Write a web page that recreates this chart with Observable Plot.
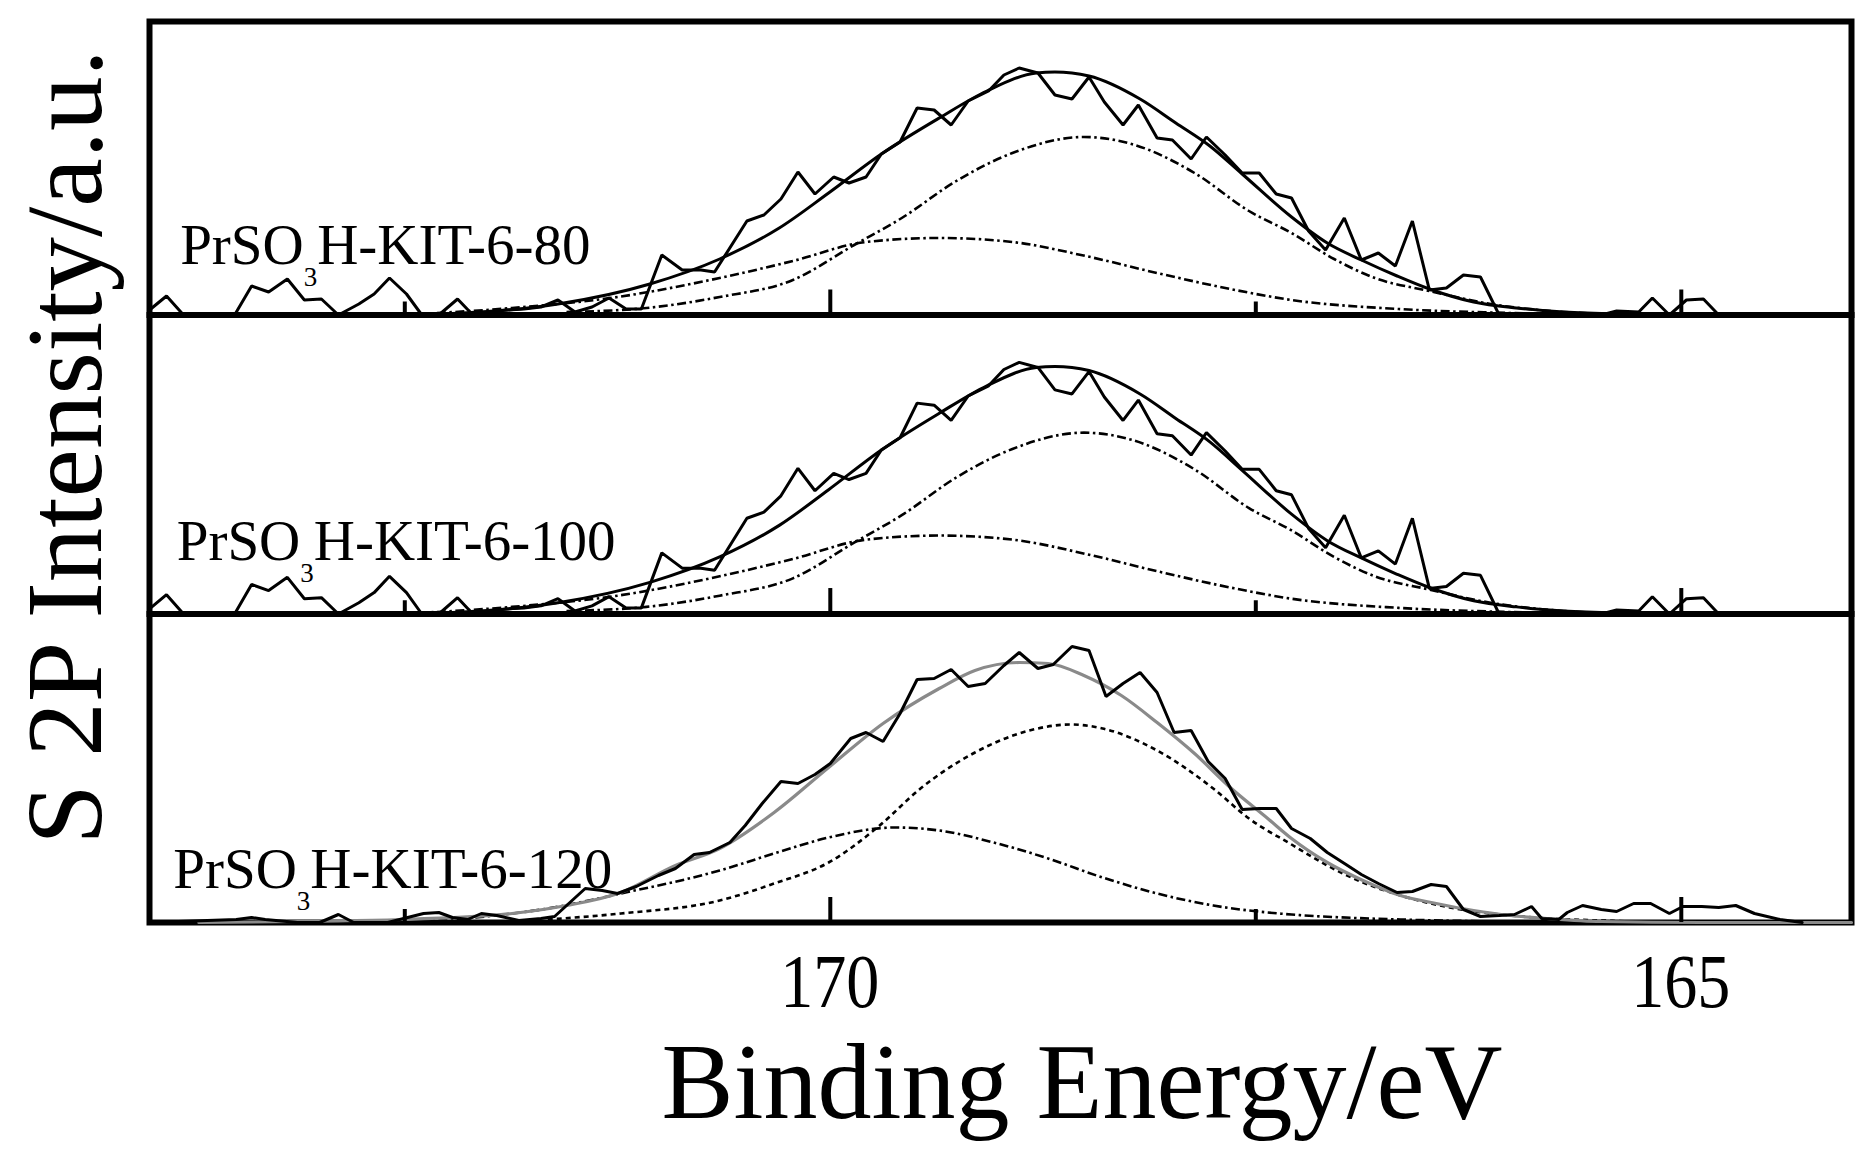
<!DOCTYPE html>
<html>
<head>
<meta charset="utf-8">
<script src="https://cdn.jsdelivr.net/npm/d3@7"></script>
<script src="https://cdn.jsdelivr.net/npm/@observablehq/plot@0.6"></script>
<style>
  html, body { margin: 0; padding: 0; background: #fff; }
  #chart { position: relative; width: 1870px; height: 1160px; background: #fff; }
  #chart svg { position: absolute; left: 0; top: 0; display: block; }
</style>
</head>
<body>
<div id="chart"></div>
<script>
// ---------------- data ----------------
const sampleNames = ["PrSO3H-KIT-6-80", "PrSO3H-KIT-6-100", "PrSO3H-KIT-6-120"];

const majorTicks = [170, 165];
const minorTicks = [172.5, 167.5];

// Panels 1 and 2 (80 and 100) show the same measured trace and fit.
const rawBE_80 = [174.0, 173.90, 173.80, 173.70, 173.60, 173.50, 173.40, 173.30, 173.19, 173.09,
  172.99, 172.89, 172.77, 172.68, 172.59, 172.49, 172.40, 172.30, 172.19, 172.10,
  172.00, 171.90, 171.80, 171.70, 171.60, 171.50, 171.40, 171.30, 171.20, 171.11,
  170.99, 170.87, 170.76, 170.68, 170.49, 170.39, 170.29, 170.19, 170.09, 169.98,
  169.89, 169.79, 169.70, 169.59, 169.49, 169.39, 169.29, 169.19, 169.07, 168.98,
  168.89, 168.78, 168.68, 168.58, 168.48, 168.39, 168.28, 168.19, 168.08, 167.99,
  167.88, 167.79, 167.68, 167.58, 167.48, 167.38, 167.29, 167.19, 167.09, 166.98,
  166.88, 166.78, 166.68, 166.58, 166.48, 166.38, 166.28, 166.18, 166.07, 165.97,
  165.87, 165.77, 165.67, 165.57, 165.47, 165.38, 165.25, 165.17, 165.07, 164.97,
  164.87, 164.78, 164.0];
const rawI_80 = [5, 19, 0, 0, 0, 0, 29, 23, 36, 15,
  16, 0, 11, 21, 37, 21, 0, 0, 16, 0,
  3, 5, 6, 8, 15, 3, 8, 17, 6, 6,
  60, 45, 45, 43, 94, 100, 116, 143, 121, 138,
  132, 138, 161, 173, 207, 205, 190, 214, 224, 240,
  247, 242, 220, 216, 238, 213, 190, 210, 177, 175,
  156, 178, 160, 142, 142, 121, 117, 84, 65, 97,
  55, 62, 49, 94, 25, 27, 40, 38, 0, 0,
  0, 0, 0, 0, 0, 4, 3, 17, 0, 15,
  16, 0, 0];

const fitBE_80 = [172.60, 172.35, 172.16, 171.60, 171.06, 170.65, 170.30, 170.01, 169.70, 169.36,
  169.08, 168.79, 168.68, 168.48, 168.18, 167.97, 167.77, 167.58, 167.29, 167.08,
  166.88, 166.67, 166.48, 166.22, 165.97, 165.69, 165.37, 164.88];
const fitI_80 = [0, 1, 2, 11, 31, 56, 87, 122, 161, 197,
  224, 242, 243, 239, 216, 192, 169, 141, 98, 72,
  55, 39, 26, 13, 7, 3, 1, 0];

const compA_BE_80 = [171.55, 171.08, 170.65, 170.22, 169.86, 169.58, 169.26, 168.93, 168.51, 168.23,
  167.86, 167.54, 167.29, 167.04, 166.80, 166.48, 166.12, 165.69, 165.18];
const compA_I_80 = [3, 7, 18, 35, 70, 97, 134, 162, 178, 171,
  142, 104, 82, 56, 37, 24, 11, 3, 0];

const compB_BE_80 = [172.42, 171.87, 171.25, 170.65, 170.22, 169.79, 169.36, 168.93, 168.50, 168.08,
  167.65, 167.29, 166.66, 166.01, 165.18];
const compB_I_80 = [1, 7, 18, 37, 54, 73, 77, 73, 59, 42,
  26, 15, 6, 2, 0];

// Panel 3 (120)
const rawBE_120 = [174.00, 173.49, 173.40, 173.32, 173.13, 173.00, 172.89, 172.80, 172.60, 172.39,
  172.30, 172.22, 172.13, 172.05, 171.96, 171.83, 171.70, 171.62, 171.44, 171.34,
  171.25, 171.14, 171.01, 170.91, 170.80, 170.71, 170.59, 170.50, 170.40, 170.29,
  170.19, 170.09, 170.00, 169.88, 169.79, 169.69, 169.59, 169.49, 169.39, 169.29,
  169.19, 169.09, 168.98, 168.89, 168.78, 168.69, 168.58, 168.48, 168.38, 168.28,
  168.18, 168.08, 167.98, 167.88, 167.78, 167.68, 167.58, 167.48, 167.38, 167.29,
  167.18, 167.08, 166.97, 166.88, 166.78, 166.67, 166.58, 166.47, 166.38, 166.28,
  166.18, 166.07, 165.98, 165.88, 165.82, 165.72, 165.67, 165.58, 165.47, 165.38,
  165.28, 165.18, 165.07, 164.99, 164.88, 164.78, 164.68, 164.57, 164.42, 164.29];
const rawI_120 = [0, 3, 5, 3, 0, 0, 8, 0, 0, 9,
  10, 5, 3, 9, 7, 2, 4, 6, 34, 32,
  29, 36, 47, 54, 68, 70, 80, 97, 119, 141,
  139, 148, 159, 184, 190, 181, 209, 243, 244, 253,
  236, 239, 257, 270, 254, 258, 276, 272, 226, 239,
  250, 230, 190, 192, 161, 144, 113, 114, 114, 94,
  84, 70, 58, 48, 39, 30, 31, 38, 36, 13,
  6, 7, 8, 16, 4, 3, 10, 17, 13, 11,
  19, 19, 9, 16, 16, 15, 17, 9, 3, 0];

const fitBE_120 = [173.71, 172.52, 171.87, 171.55, 171.23, 170.91, 170.65, 170.33, 170.01, 169.69,
  169.36, 169.15, 168.89, 168.72, 168.51, 168.29, 168.08, 167.86, 167.65, 167.43,
  167.29, 167.08, 166.87, 166.65, 166.44, 166.22, 166.01, 165.79, 165.47, 164.88, 164.00];
const fitI_120 = [0, 3, 9, 17, 30, 57, 74, 110, 155, 199,
  234, 252, 260, 259, 247, 227, 200, 169, 135, 104,
  84, 60, 42, 27, 19, 12, 7, 4, 1, 0, 0];

const compA_BE_120 = [171.66, 171.23, 170.65, 170.33, 170.01, 169.71, 169.47, 169.15, 168.83, 168.59,
  168.40, 168.08, 167.75, 167.54, 167.29, 167.08, 166.87, 166.65, 166.36, 165.94, 165.47, 164.88];
const compA_I_120 = [3, 9, 22, 39, 60, 97, 134, 170, 192, 198,
  194, 172, 134, 104, 78, 57, 40, 27, 15, 6, 2, 0];

const compB_BE_120 = [172.52, 172.09, 171.66, 171.23, 170.65, 170.33, 170.01, 169.62, 169.36, 169.04,
  168.72, 168.40, 168.08, 167.75, 167.43, 167.29, 166.65, 166.06, 165.47];
const compB_I_120 = [1, 5, 14, 29, 52, 69, 85, 95, 92, 80,
  64, 45, 29, 17, 10, 8, 3, 1, 0];

// ---------------- layout (not data) ----------------
const layout = {
  width: 1870, height: 1160,
  marginLeft: 149, marginRight: 19,
  bounds: [21, 314.5, 613.5, 922],     // panel frame edges, top to bottom
  yMax: [293.5, 293.5, 308.5],         // intensity units spanned by each panel
  labelBE: [173.82, 173.84, 173.86],   // left edge of sample labels
  labelBase: [51, 53, 35],             // baseline height above panel bottom
  tickLabelBaseline: 1007
};
const font = "'Liberation Serif', 'Times New Roman', serif";
const dashDot = "9,3.5,2.5,3.5";

// ---------------- build tidy table ----------------
const rows = [];
function addSeries(sample, series, be, inten) {
  const n = Math.min(be.length, inten.length);
  for (let k = 0; k < n; k++) rows.push({sample, series, be: be[k], i: inten[k]});
}
[sampleNames[0], sampleNames[1]].forEach(s => {
  addSeries(s, "compB", compB_BE_80, compB_I_80);
  addSeries(s, "compA", compA_BE_80, compA_I_80);
  addSeries(s, "fit", fitBE_80, fitI_80);
  addSeries(s, "raw", rawBE_80, rawI_80);
});
addSeries(sampleNames[2], "compB", compB_BE_120, compB_I_120);
addSeries(sampleNames[2], "compA", compA_BE_120, compA_I_120);
addSeries(sampleNames[2], "fit", fitBE_120, fitI_120);
addSeries(sampleNames[2], "raw", rawBE_120, rawI_120);

function panel(k) {
  const s = sampleNames[k];
  const data = rows.filter(d => d.sample === s);
  const last = k === sampleNames.length - 1;
  const lineOf = (series, extra) => Plot.line(data.filter(d => d.series === series),
    {x: "be", y: "i", stroke: "#000", ...extra});
  const marks = [
    Plot.frame({stroke: "#000", strokeWidth: 6}),
    lineOf("compB", {strokeWidth: 2.6, strokeDasharray: dashDot, strokeLinecap: "butt", curve: "monotone-x"}),
    lineOf("compA", {strokeWidth: 2.6, strokeDasharray: last ? "5,4" : dashDot, strokeLinecap: "butt", curve: "monotone-x"}),
    lineOf("fit", {strokeWidth: last ? 3.2 : 3, stroke: last ? "#8a8a8a" : "#000", curve: "monotone-x"}),
    lineOf("raw", {strokeWidth: 3, strokeLinejoin: "miter"}),
    Plot.ruleX(majorTicks, {x: d => d, y1: 0, y2: 25, stroke: "#000", strokeWidth: 4}),
    Plot.ruleX(minorTicks, {x: d => d, y1: 0, y2: 13, stroke: "#000", strokeWidth: 4}),
    Plot.text([s], {x: layout.labelBE[k], y: layout.labelBase[k], text: d => d,
      textAnchor: "start", lineAnchor: "bottom", fontSize: 57, fill: "#000"})
  ];
  if (last) {
    marks.push(
      Plot.axisX({ticks: majorTicks, tickSize: 0, tickPadding: 31, fontSize: 76,
        tickFormat: d => String(d), label: "Binding Energy/eV", labelArrow: "none", labelAnchor: "center"}),
      Plot.axisY({ticks: [0], tickSize: 0, tickFormat: () => "", label: "S 2P Intensity/a.u.",
        labelArrow: "none", labelAnchor: "center"})
    );
  }
  return Plot.plot({
    width: layout.width,
    height: layout.height,
    marginLeft: layout.marginLeft,
    marginRight: layout.marginRight,
    marginTop: layout.bounds[k],
    marginBottom: layout.height - layout.bounds[k + 1],
    style: {fontFamily: font, background: "transparent", color: "#000", overflow: "visible"},
    x: {domain: [174, 164], ...(last ? {} : {axis: null})},
    y: {domain: [0, layout.yMax[k]], ...(last ? {} : {axis: null})},
    marks
  });
}

const chart = document.getElementById("chart");
const svgs = sampleNames.map((_, k) => panel(k));
svgs.forEach(svg => chart.append(svg));

// ---------------- text finishing ----------------
const bottom = svgs[svgs.length - 1];
const xScale = bottom.scale("x");
d3.select(bottom).selectAll('g[aria-label="x-axis tick label"] text').each(function () {
  const v = +this.textContent;
  if (!isFinite(v)) return;
  bottom.appendChild(this);
  ["x", "y", "dx", "dy"].forEach(a => this.removeAttribute(a));
  this.setAttribute("text-anchor", "middle");
  this.setAttribute("fill", "#000");
  this.style.fontSize = "76px";
  this.setAttribute("transform", `translate(${xScale.apply(v)},${layout.tickLabelBaseline}) scale(0.87,1)`);
});

function placeLabel(svg, aria, text, x, y, rot, size) {
  const g = svg.querySelector(`g[aria-label="${aria}"]`);
  let t = g && g.querySelector("text");
  if (!t) {
    t = document.createElementNS("http://www.w3.org/2000/svg", "text");
  }
  svg.appendChild(t);
  t.textContent = text;
  ["x", "y", "dx", "dy"].forEach(a => t.removeAttribute(a));
  t.setAttribute("transform", `translate(${x},${y})` + (rot ? ` rotate(${rot})` : ""));
  t.setAttribute("text-anchor", "middle");
  t.setAttribute("fill", "#000");
  t.style.fontSize = size + "px";
  t.style.fontFamily = font;
}
placeLabel(bottom, "x-axis label", "Binding Energy/eV", 1082, 1118, 0, 108);
placeLabel(bottom, "y-axis label", "S 2P Intensity/a.u.", 101, 447, -90, 109);

// subscript 3 in the sample labels
svgs.forEach(svg => d3.select(svg).selectAll("text").each(function () {
  const s = this.textContent;
  if (!s.startsWith("PrSO3H")) return;
  const t = d3.select(this);
  t.text(null);
  t.append("tspan").text("PrSO");
  t.append("tspan").attr("dy", 22).attr("font-size", 27).text("3");
  t.append("tspan").attr("dy", -22).text(s.slice(5));
}));
</script>
</body>
</html>
